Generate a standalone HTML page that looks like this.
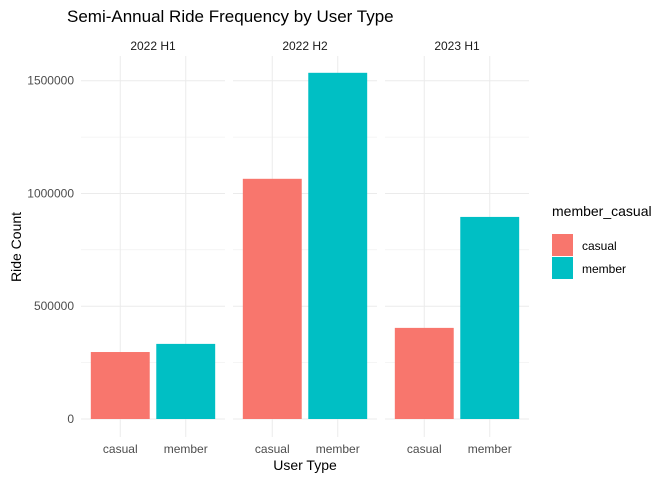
<!DOCTYPE html>
<html><head><meta charset="utf-8"><style>
body{margin:0;background:#fff;font-family:"Liberation Sans",sans-serif}
</style></head><body>
<svg id="c" width="672" height="480" font-family="Liberation Sans, sans-serif"></svg>
<script>
const panels=["2022 H1","2022 H2","2023 H1"];
const types=["casual","member"];
const casualVals=[297000,1065000,404000];
const memberVals=[333000,1535000,896000];
const yTicks=[0,500000,1000000,1500000];
const yTickLabels=["0","500000","1000000","1500000"];
const colors={casual:"#F8766D",member:"#00BFC4"};
const svg=document.getElementById('c');
const NS="http://www.w3.org/2000/svg";
function mk(t,a,p){const e=document.createElementNS(NS,t);for(const k in a)e.setAttribute(k,a[k]);(p||svg).appendChild(e);return e;}
const panelX=[81,233,385],pw=144,panelTop=56,panelBot=437;
const yZero=419,yPer=338.3/1500000;
const y=v=>yZero-v*yPer;
const x=(p,i)=>panelX[p]+pw*(0.6+i)/2.2;
const bw=pw*0.9/2.2;
const minor=[250000,750000,1250000];
panels.forEach((pn,p)=>{
  const g=mk('g',{});
  
  
  minor.forEach(v=>{const l=mk('line',{x1:panelX[p],x2:panelX[p]+pw,y1:y(v),y2:y(v),stroke:'#ebebeb','stroke-width':0.5},g);});
  yTicks.forEach(v=>{const l=mk('line',{x1:panelX[p],x2:panelX[p]+pw,y1:y(v),y2:y(v),stroke:'#ebebeb','stroke-width':1},g);});
  types.forEach((t,i)=>{const l=mk('line',{x1:x(p,i),x2:x(p,i),y1:panelTop,y2:panelBot,stroke:'#ebebeb','stroke-width':1},g);});
  const vals=[casualVals[p],memberVals[p]];
  types.forEach((t,i)=>{
    const r=mk('rect',{x:x(p,i)-bw/2,y:y(vals[i]),width:bw,height:yZero-y(vals[i]),fill:colors[t]},g);
    
    
    const tx=mk('text',{x:x(p,i),y:453,'text-anchor':'middle','font-size':12,fill:'#4d4d4d'},g);tx.textContent=t;
    
  });
  const st=mk('text',{x:panelX[p]+pw/2,y:50,'text-anchor':'middle','font-size':12,fill:'#1a1a1a'},g);st.textContent=pn;
  
});
yTicks.forEach((v,i)=>{const t=mk('text',{x:74,y:y(v)+4,'text-anchor':'end','font-size':12,fill:'#4d4d4d'});t.textContent=yTickLabels[i];
  });
let t=mk('text',{x:67,y:22,'font-size':17,fill:'#000'});t.textContent="Semi-Annual Ride Frequency by User Type";

t=mk('text',{x:305,y:470,'text-anchor':'middle','font-size':14,fill:'#000'});t.textContent="User Type";

t=mk('text',{x:21,y:247,'text-anchor':'middle','font-size':14,fill:'#000',transform:'rotate(-90 21 247)'});t.textContent="Ride Count";

const lg=mk('g',{});
t=mk('text',{x:552,y:216,'font-size':14,fill:'#000'},lg);t.textContent="member_casual";

types.forEach((ty,i)=>{
  const r=mk('rect',{x:552,y:234+i*23,width:21,height:22,fill:colors[ty]},lg);
  
  const tt=mk('text',{x:582,y:250+i*23,'font-size':12,fill:'#000'},lg);tt.textContent=ty;
  
});
</script>
</body></html>
